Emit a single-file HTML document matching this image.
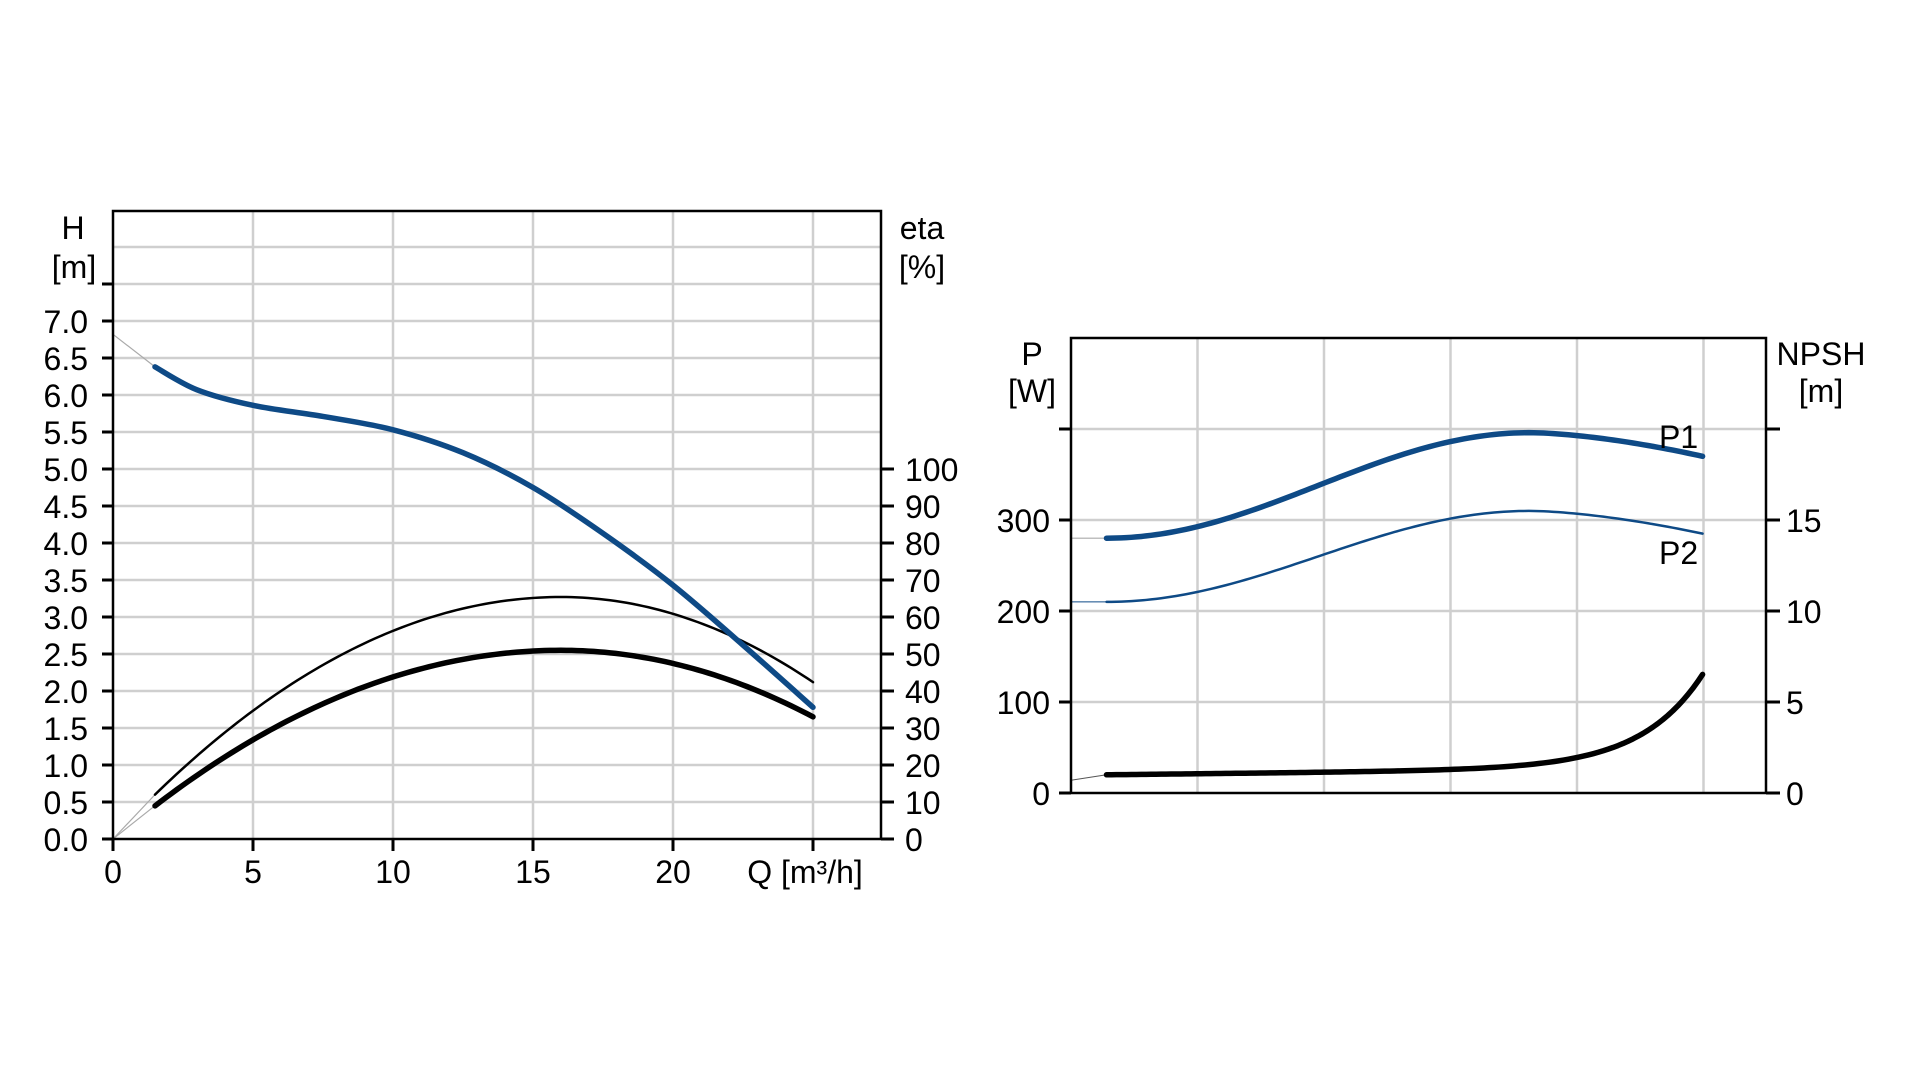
<!DOCTYPE html>
<html><head><meta charset="utf-8">
<style>
html,body{margin:0;padding:0;background:#fff;}
svg{display:block;}
text{font-family:"Liberation Sans",Arial,sans-serif;font-size:32px;fill:#000;}
</style></head>
<body>
<svg id="s" width="1920" height="1080" viewBox="0 0 1920 1080" xmlns="http://www.w3.org/2000/svg">
<g id="grid" stroke="#cfcfcf" stroke-width="2.5" fill="none"></g>
<g id="curves" fill="none" stroke-linecap="round" stroke-linejoin="round"></g>
<g id="axes" stroke="#000" stroke-width="3" fill="none"></g>
<g id="labels"></g>
</svg>
<script>
const NS="http://www.w3.org/2000/svg";
function el(parent,tag,attrs,txt){const e=document.createElementNS(NS,tag);for(const k in attrs)e.setAttribute(k,attrs[k]);if(txt!==undefined)e.textContent=txt;document.getElementById(parent).appendChild(e);return e;}
function line(p,x1,y1,x2,y2,extra){el(p,'line',Object.assign({x1,y1,x2,y2},extra||{}));}
function txt(x,y,s,anchor,extra){el('labels','text',Object.assign({x,y,'text-anchor':anchor||'start'},extra||{}),s);}
function spline(pts){let d=`M${pts[0][0]},${pts[0][1]}`;for(let i=0;i<pts.length-1;i++){const p0=pts[Math.max(0,i-1)],p1=pts[i],p2=pts[i+1],p3=pts[Math.min(pts.length-1,i+2)];const c1=[p1[0]+(p2[0]-p0[0])/6,p1[1]+(p2[1]-p0[1])/6],c2=[p2[0]-(p3[0]-p1[0])/6,p2[1]-(p3[1]-p1[1])/6];d+=` C${c1[0]},${c1[1]} ${c2[0]},${c2[1]} ${p2[0]},${p2[1]}`;}return d;}
function fn(f,a,b,X,Y){let d='';const n=120;for(let i=0;i<=n;i++){const t=a+(b-a)*i/n;d+=(i?' L':'M')+X(t).toFixed(2)+','+Y(f(t)).toFixed(2);}return d;}
const L=113,R=881,T=211,B=839;
const X=q=>L+28*q, Y=h=>B-74*h;
for(let q=5;q<=25;q+=5)line('grid',X(q),T,X(q),B);
for(let h=0.5;h<=8.0;h+=0.5)line('grid',L,Y(h),R,Y(h));
const P=(arr)=>arr.map(a=>[X(a[0]),Y(a[1])]);
el('curves','path',{d:`M${X(0)},${Y(6.82)} L${X(1.5)},${Y(6.38)}`,stroke:'#aaa','stroke-width':1.2});
el('curves','path',{d:`M${X(0)},${Y(0)} L${X(1.5)},${Y(0.6)}`,stroke:'#aaa','stroke-width':1.2});
el('curves','path',{d:`M${X(0)},${Y(0)} L${X(1.5)},${Y(0.45)}`,stroke:'#aaa','stroke-width':1.2});
const e1=q=>q<16?3.27-0.0127*(q-16)**2:3.27-0.0142*(q-16)**2;
const e2=q=>q<16?2.55-0.0100*(q-16)**2:2.55-0.0111*(q-16)**2;
el('curves','path',{d:fn(e1,1.5,25,X,Y),stroke:'#000','stroke-width':2.5});
el('curves','path',{d:fn(e2,1.5,25,X,Y),stroke:'#000','stroke-width':5.5});
el('curves','path',{d:spline(P([[1.5,6.38],[3,6.07],[5,5.86],[7.5,5.71],[10,5.53],[12.5,5.22],[15,4.75],[17.5,4.13],[20,3.43],[22.5,2.62],[25,1.78]])),stroke:'#0e4a86','stroke-width':5.5});
el('axes','rect',{x:L,y:T,width:R-L,height:B-T,'stroke-width':2.5});
for(let h=0;h<=7.5;h+=0.5)line('axes',L-11,Y(h),L,Y(h));
for(let q=0;q<=25;q+=5)line('axes',X(q),B,X(q),B+12);
for(let e=0;e<=100;e+=10)line('axes',R,Y(e/20),R+13,Y(e/20));
for(let h=0;h<=7.0001;h+=0.5)txt(88,Y(h)+12,h.toFixed(1),'end');
for(let q=0;q<=20;q+=5)txt(X(q),883,String(q),'middle');
txt(805,883,'Q [m³/h]','middle');
for(let e=0;e<=100;e+=10)txt(905,Y(e/20)+12,String(e));
txt(73,239,'H','middle');txt(74,278,'[m]','middle');
txt(922,239,'eta','middle');txt(922,278,'[%]','middle');
const L2=1071,R2=1766,T2=338,B2=793;
const X2=t=>t*1.224, Y2=p=>B2-0.91*p;
for(let k=1;k<=5;k++){const x=L2+126.5*k;line('grid',x,T2,x,B2);}
for(let p=100;p<=400;p+=100)line('grid',L2,Y2(p),R2,Y2(p));
el('curves','path',{d:`M${L2},${Y2(280)} L${X2(904)},${Y2(280)}`,stroke:'#aaa','stroke-width':1.2});
el('curves','path',{d:`M${L2},${Y2(210)} L${X2(904)},${Y2(210)}`,stroke:'#0e4a86','stroke-width':1});
el('curves','path',{d:`M${L2},${Y2(14)} L${X2(904)},${Y2(20)}`,stroke:'#555','stroke-width':1});
const pc=(base,amp,drop)=>t=>t<1250?base+amp*(1-Math.cos(Math.PI*(t-904)/346))/2:base+amp-drop*Math.pow((t-1250)/141,1.6);
el('curves','path',{d:fn(pc(280,116,26),904,1391,X2,Y2),stroke:'#0e4a86','stroke-width':5.5});
el('curves','path',{d:fn(pc(210,100,25),904,1391,X2,Y2),stroke:'#0e4a86','stroke-width':2.5});
const np=t=>20+0.015*(t-904)+103*Math.exp((t-1391)/50);
el('curves','path',{d:fn(np,904,1391,X2,Y2),stroke:'#000','stroke-width':5.5});
el('axes','rect',{x:L2,y:T2,width:R2-L2,height:B2-T2,'stroke-width':2.5});
for(let p=0;p<=400;p+=100){line('axes',L2-12,Y2(p),L2,Y2(p));line('axes',R2,Y2(p),R2+14,Y2(p));}
for(let p=0;p<=300;p+=100){txt(1050,Y2(p)+12,String(p),'end');txt(1786,Y2(p)+12,String(p/20));}
txt(1032,365,'P','middle');txt(1032,402,'[W]','middle');
txt(1821,365,'NPSH','middle');txt(1821,402,'[m]','middle');
txt(1659,448,'P1','start',{fill:'#0e4a86'});txt(1659,564,'P2','start',{fill:'#0e4a86'});
</script>
</body></html>
